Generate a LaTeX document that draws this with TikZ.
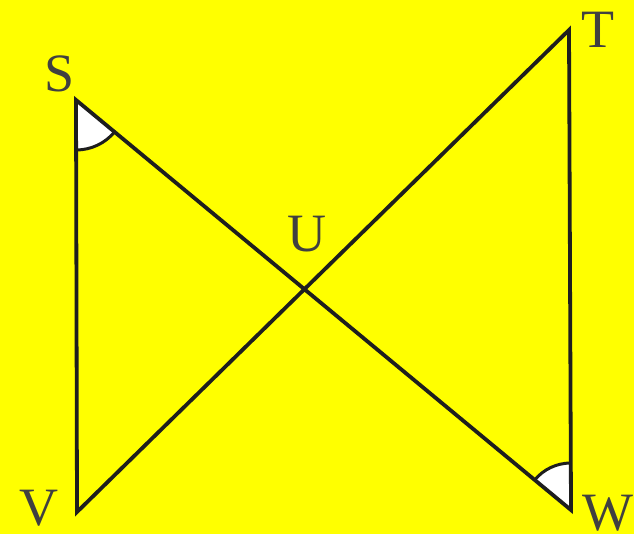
\documentclass[tikz,border=0pt]{standalone}
\usepackage{fontspec}
\setmainfont{Liberation Serif}
\usetikzlibrary{calc}
\definecolor{bgyellow}{RGB}{255,255,0}
\definecolor{ink}{RGB}{30,30,30}
\begin{document}
\begin{tikzpicture}[x=1pt,y=-1pt,
  seg/.style={line width=3.8pt,draw=ink},
  lbl/.style={font=\fontsize{54}{54}\selectfont,text=ink!85,inner sep=0pt},
  angarc/.style={draw=ink,line width=3pt}]
\fill[bgyellow] (0,0) rectangle (634,534);
\useasboundingbox (0,0) rectangle (634,534);
\coordinate (S) at (76,100);
\coordinate (T) at (569,30);
\coordinate (V) at (77,512);
\coordinate (W) at (571,510);
\coordinate (U) at (intersection of S--W and V--T);
% angle wedges
\fill[white] (S) -- ($(S)!50pt!(V)$) arc[start angle=-90,end angle={-39.6},radius=50pt] -- cycle;
\draw[angarc] ($(S)!50pt!(V)$) arc[start angle=-90,end angle={-39.6},radius=50pt];
\fill[white] (W) -- ($(W)!47pt!(T)$) arc[start angle=90,end angle={140.4},radius=47pt] -- cycle;
\draw[angarc] ($(W)!47pt!(T)$) arc[start angle=90,end angle={140.4},radius=47pt];
\draw[seg,line join=miter] (V) -- (S) -- (W) -- (T) -- cycle;
\node[lbl] (ls) at (60,74) {S};
\node[lbl] (lt) at (598,30) {T};
\node[lbl] (lu) at (307,234) {U};
\node[lbl] (lv) at (39,508) {V};
\node[lbl] (lw) at (608,513) {W};
\end{tikzpicture}
\end{document}
